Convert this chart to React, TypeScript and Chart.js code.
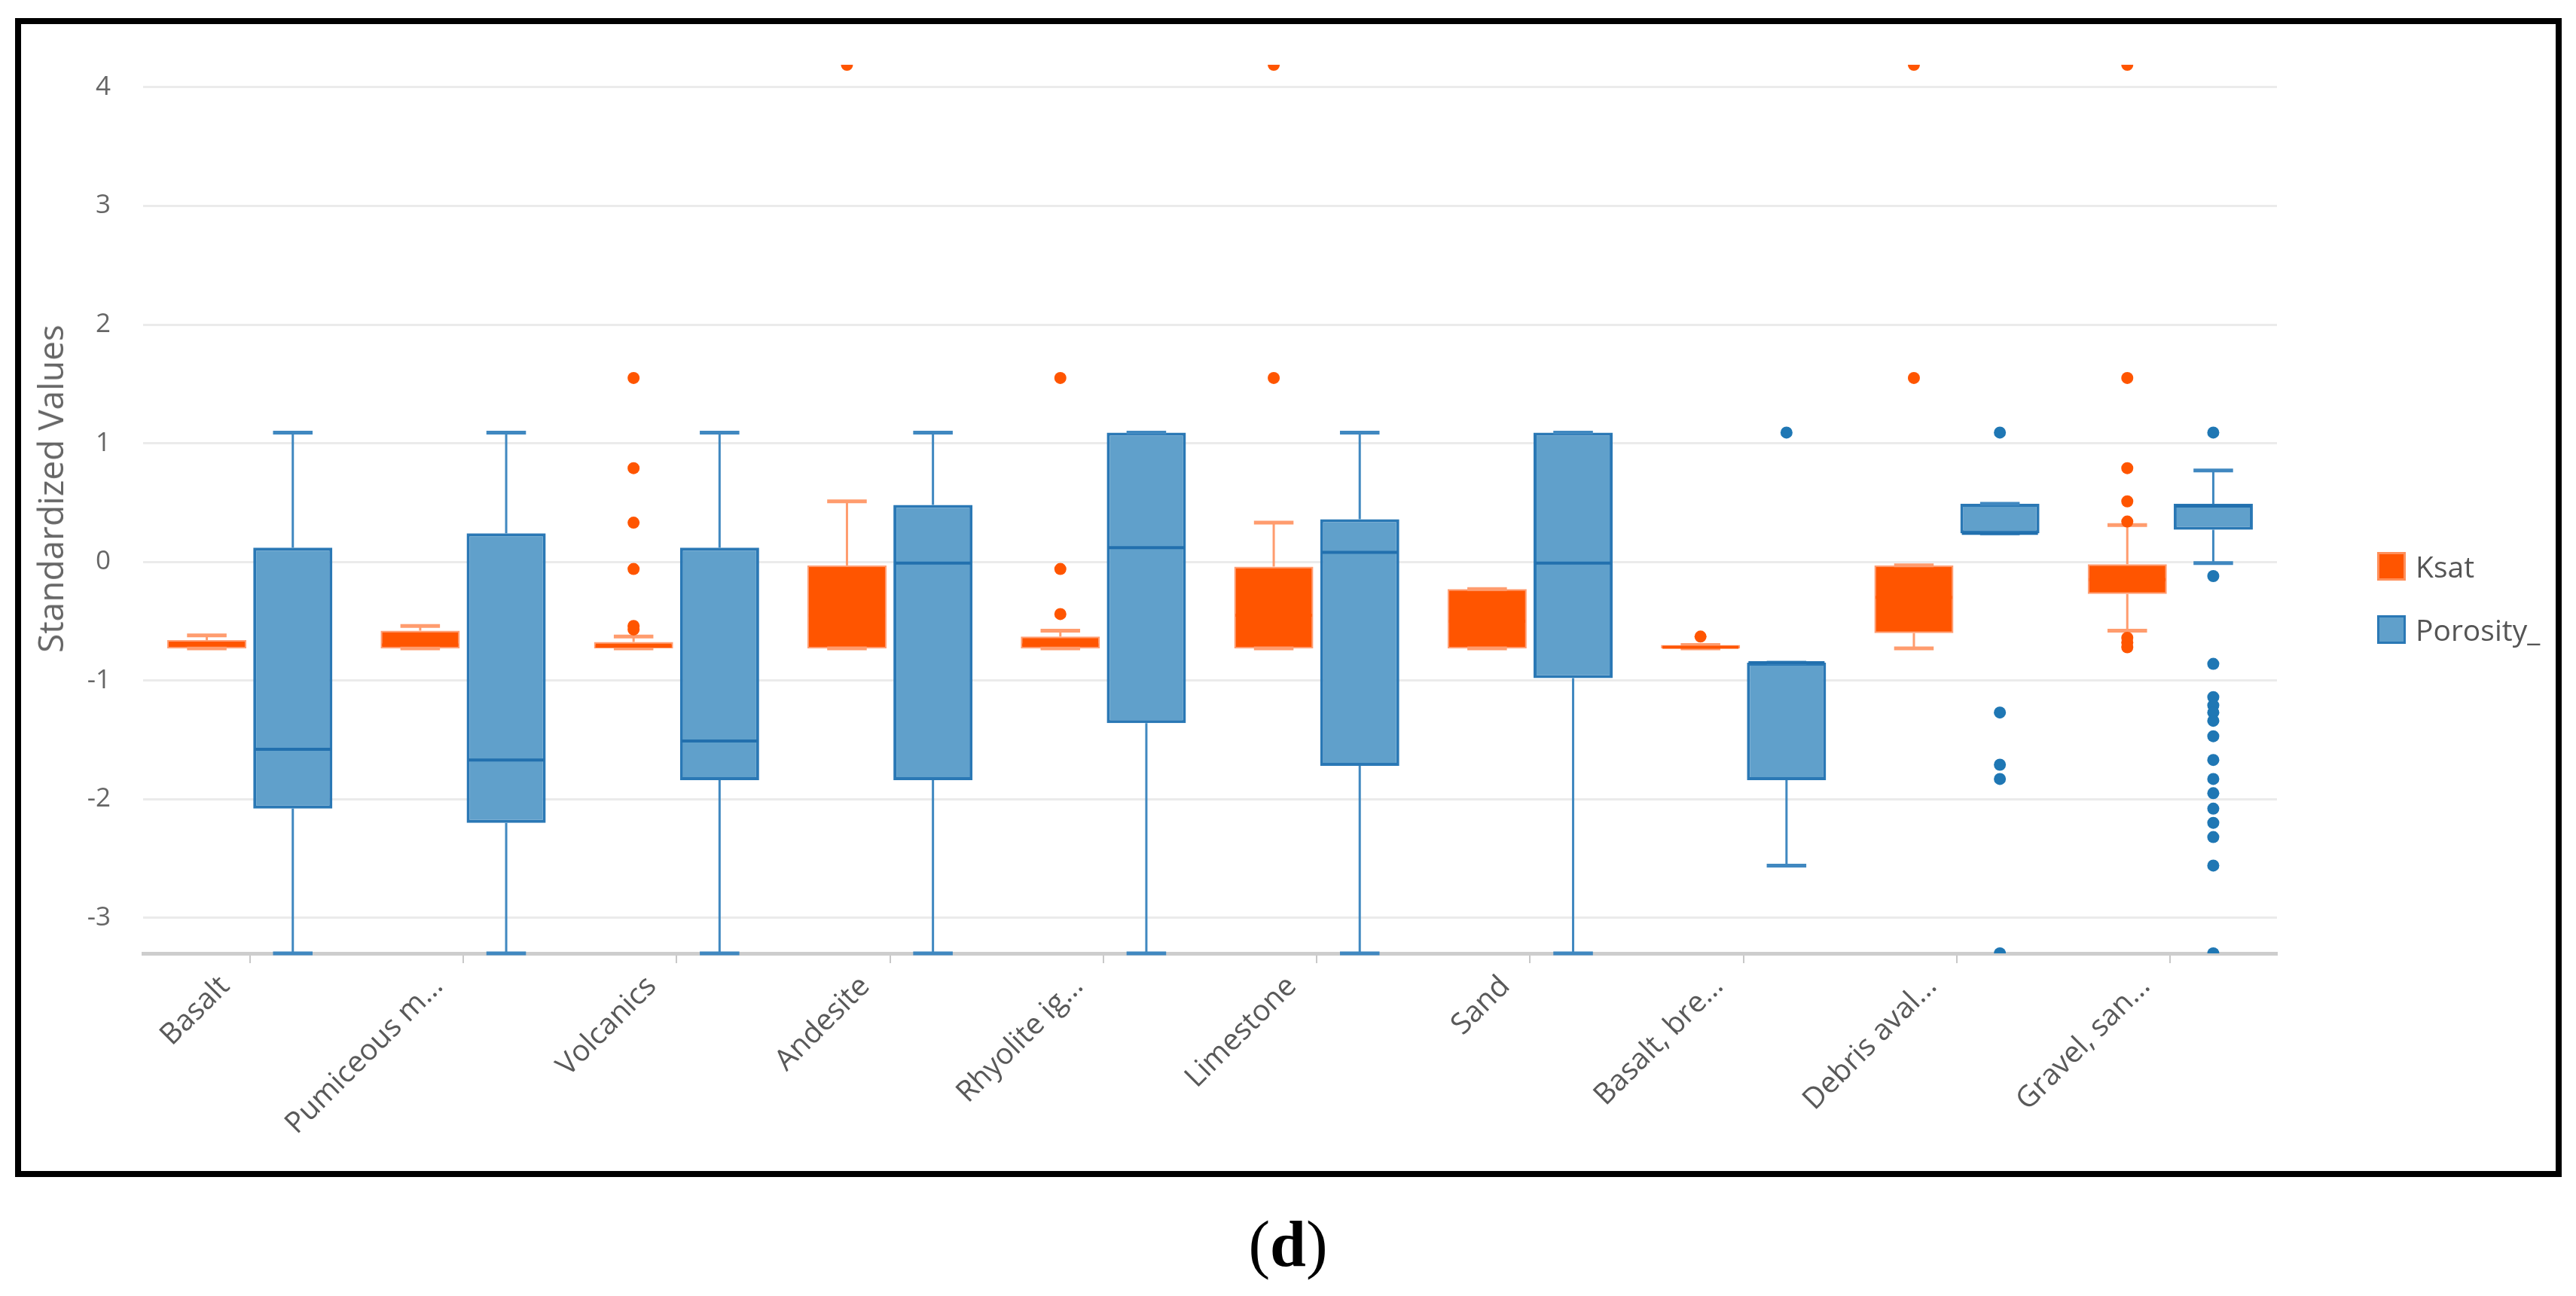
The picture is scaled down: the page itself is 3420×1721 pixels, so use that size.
import React, { useEffect, useRef } from 'react';
import { Chart, registerables } from 'chart.js';

Chart.register(...registerables);

const CATEGORIES = [
  'Basalt',
  'Pumiceous m...',
  'Volcanics',
  'Andesite',
  'Rhyolite ig...',
  'Limestone',
  'Sand',
  'Basalt, bre...',
  'Debris aval...',
  'Gravel, san...',
];

const SERIES_NAMES = ['Ksat', 'Porosity_'];
const Y_TITLE = 'Standardized Values';

// Ksat box statistics
const KSAT_MIN = [-0.73, -0.73, -0.73, -0.73, -0.73, -0.73, -0.73, -0.73, -0.73, -0.58];
const KSAT_Q1 = [-0.73, -0.73, -0.73, -0.73, -0.73, -0.73, -0.73, -0.73, -0.6, -0.27];
const KSAT_MEDIAN = [-0.7, -0.7, -0.71, -0.45, -0.7, -0.45, -0.5, -0.72, -0.3, -0.15];
const KSAT_Q3 = [-0.66, -0.58, -0.675, -0.03, -0.63, -0.04, -0.23, -0.7, -0.03, -0.02];
const KSAT_MAX = [-0.62, -0.54, -0.63, 0.51, -0.58, 0.33, -0.23, -0.7, -0.03, 0.31];
const KSAT_OUTLIERS = [
  [],
  [],
  [1.55, 0.79, 0.33, -0.06, -0.54, -0.57],
  [4.19],
  [1.55, -0.06, -0.44],
  [4.19, 1.55],
  [],
  [-0.63],
  [4.19, 1.55],
  [4.19, 1.55, 0.79, 0.51, 0.34, -0.64, -0.68, -0.72],
];

// Porosity_ box statistics
const POR_MIN = [-3.3, -3.3, -3.3, -3.3, -3.3, -3.3, -3.3, -2.56, 0.24, -0.01];
const POR_Q1 = [-2.08, -2.2, -1.84, -1.84, -1.36, -1.72, -0.98, -1.84, 0.24, 0.27];
const POR_MEDIAN = [-1.58, -1.67, -1.51, -0.01, 0.12, 0.08, -0.01, -0.85, 0.24, 0.47];
const POR_Q3 = [0.12, 0.24, 0.12, 0.48, 1.09, 0.36, 1.09, -0.85, 0.49, 0.49];
const POR_MAX = [1.09, 1.09, 1.09, 1.09, 1.09, 1.09, 1.09, -0.85, 0.49, 0.77];
const POR_OUTLIERS = [
  [],
  [],
  [],
  [],
  [],
  [],
  [],
  [1.09],
  [1.09, -1.27, -1.71, -1.83, -3.3],
  [1.09, -0.12, -0.86, -1.14, -1.21, -1.27, -1.34, -1.47, -1.67, -1.83, -1.95, -2.08, -2.2, -2.32, -2.56, -3.3],
];

const Y_MIN = -3.3;
const Y_MAX = 4.19;

const ORANGE = '#FF5500';
const ORANGE_EDGE = 'rgba(255,140,90,0.85)';
const ORANGE_WHISKER = '#FF9C6E';
const BLUE_FILL = '#60A0CB';
const BLUE_EDGE = '#2A78B5';
const BLUE_WHISKER = '#4088C0';
const BLUE_DOT = '#1F77B4';

const SERIES = [
  {
    min: KSAT_MIN, q1: KSAT_Q1, med: KSAT_MEDIAN, q3: KSAT_Q3, max: KSAT_MAX, out: KSAT_OUTLIERS,
    whisker: ORANGE_WHISKER, median: ORANGE, dot: ORANGE,
  },
  {
    min: POR_MIN, q1: POR_Q1, med: POR_MEDIAN, q3: POR_Q3, max: POR_MAX, out: POR_OUTLIERS,
    whisker: BLUE_WHISKER, median: '#2270AE', dot: BLUE_DOT,
  },
];

const boxExtras = {
  id: 'boxExtras',
  afterDatasetsDraw(chart: any) {
    const { ctx, chartArea: a } = chart;
    const y = chart.scales.y;
    SERIES.forEach((s, d) => {
      const meta = chart.getDatasetMeta(d);
      meta.data.forEach((el: any, i: number) => {
        const x = el.x;
        const w = el.width;
        const capW = w * 0.5;
        const yq1 = y.getPixelForValue(s.q1[i]);
        const yq3 = y.getPixelForValue(s.q3[i]);
        const ymin = y.getPixelForValue(s.min[i]);
        const ymax = y.getPixelForValue(s.max[i]);
        const ymed = y.getPixelForValue(s.med[i]);
        ctx.save();
        ctx.strokeStyle = s.whisker;
        ctx.lineWidth = 3;
        ctx.beginPath();
        ctx.moveTo(x, yq3);
        ctx.lineTo(x, ymax);
        ctx.moveTo(x, yq1);
        ctx.lineTo(x, ymin);
        ctx.stroke();
        ctx.lineWidth = 5;
        ctx.beginPath();
        ctx.moveTo(x - capW / 2, ymax);
        ctx.lineTo(x + capW / 2, ymax);
        ctx.moveTo(x - capW / 2, ymin);
        ctx.lineTo(x + capW / 2, ymin);
        ctx.stroke();
        ctx.strokeStyle = s.median;
        ctx.lineWidth = 4;
        ctx.beginPath();
        ctx.moveTo(x - w / 2 + 2, ymed);
        ctx.lineTo(x + w / 2 - 2, ymed);
        ctx.stroke();
        ctx.beginPath();
        ctx.rect(a.left, a.top, a.right - a.left, a.bottom - a.top);
        ctx.clip();
        ctx.fillStyle = s.dot;
        s.out[i].forEach((v: number) => {
          ctx.beginPath();
          ctx.arc(x, y.getPixelForValue(v), 8, 0, Math.PI * 2);
          ctx.fill();
        });
        ctx.restore();
      });
    });
  },
};

export default function App() {
  const canvasRef = useRef<HTMLCanvasElement | null>(null);

  useEffect(() => {
    if (!canvasRef.current) return;
    Chart.defaults.font.family = '"Open Sans", sans-serif';
    const chart = new Chart(canvasRef.current, {
      type: 'bar',
      data: {
        labels: CATEGORIES,
        datasets: [
          {
            label: SERIES_NAMES[0],
            data: KSAT_Q1.map((v, i) => [v, KSAT_Q3[i]]) as any,
            backgroundColor: ORANGE,
            borderColor: ORANGE_EDGE,
            borderWidth: 2,
            borderSkipped: false,
            categoryPercentage: 0.806,
            barPercentage: 0.92,
          },
          {
            label: SERIES_NAMES[1],
            data: POR_Q1.map((v, i) => [v, POR_Q3[i]]) as any,
            backgroundColor: BLUE_FILL,
            borderColor: BLUE_EDGE,
            borderWidth: 4,
            borderSkipped: false,
            categoryPercentage: 0.806,
            barPercentage: 0.92,
          },
        ],
      },
      options: {
        responsive: false,
        animation: false,
        devicePixelRatio: 1,
        events: [],
        layout: { padding: { left: 0, top: 86, right: 397, bottom: 200 } },
        plugins: {
          legend: { display: false },
          tooltip: { enabled: false },
        },
        scales: {
          x: {
            offset: true,
            afterFit: (s: any) => { s.height = 255; },
            grid: {
              display: true,
              drawOnChartArea: false,
              drawTicks: true,
              tickLength: 13,
              color: '#C8C8C8',
              lineWidth: 2,
              offset: false,
            },
            border: { display: true, color: '#CDCDCD', width: 5 },
            ticks: {
              autoSkip: false,
              maxRotation: 45,
              minRotation: 45,
              padding: 8,
              labelOffset: -33,
              color: '#595959',
              font: { size: 39 },
            },
          },
          y: {
            min: Y_MIN,
            max: Y_MAX,
            afterFit: (s: any) => { s.width = 190; },
            grid: { color: '#EBEBEB', lineWidth: 3, drawTicks: false },
            border: { display: false },
            ticks: {
              stepSize: 1,
              includeBounds: false,
              padding: 43,
              color: '#666666',
              font: { size: 35 },
            },
            title: { display: false },
          },
        },
      },
      plugins: [boxExtras],
    });
    return () => chart.destroy();
  }, []);

  const legendItems = [
    { name: SERIES_NAMES[0], fill: ORANGE, edge: 'rgba(255,150,100,0.9)', top: 733 },
    { name: SERIES_NAMES[1], fill: BLUE_FILL, edge: BLUE_EDGE, top: 817 },
  ];

  return (
    <div style={{ position: 'absolute', left: 0, top: 0, width: 3420, height: 1721, background: '#fff', overflow: 'hidden' }}>
      <div
        style={{
          position: 'absolute', left: 20, top: 24, width: 3381, height: 1539,
          border: '8px solid #000', boxSizing: 'border-box',
        }}
      />
      <canvas
        ref={canvasRef}
        width={3420}
        height={1721}
        style={{ position: 'absolute', left: 0, top: 0, width: 3420, height: 1721 }}
      />
      <div
        style={{
          position: 'absolute', left: 66, top: 649, transform: 'translate(-50%, -50%) rotate(-90deg)',
          fontFamily: '"Open Sans", sans-serif', fontSize: 46, lineHeight: '46px', color: '#666',
          whiteSpace: 'nowrap',
        }}
      >
        {Y_TITLE}
      </div>
      {legendItems.map((it) => (
        <React.Fragment key={it.name}>
          <div
            style={{
              position: 'absolute', left: 3156, top: it.top, width: 38, height: 38,
              background: it.fill, border: `3px solid ${it.edge}`, boxSizing: 'border-box',
            }}
          />
          <div
            style={{
              position: 'absolute', left: 3207, top: it.top, height: 38, lineHeight: '38px',
              fontFamily: '"Open Sans", sans-serif', fontSize: 39, color: '#555', whiteSpace: 'nowrap',
            }}
          >
            {it.name}
          </div>
        </React.Fragment>
      ))}
      <div
        style={{
          position: 'absolute', left: 0, top: 1609, width: 3420, textAlign: 'center',
          fontFamily: '"Liberation Serif", "Times New Roman", serif', fontSize: 86, lineHeight: '86px', color: '#000',
        }}
      >
        (<b>d</b>)
      </div>
    </div>
  );
}
